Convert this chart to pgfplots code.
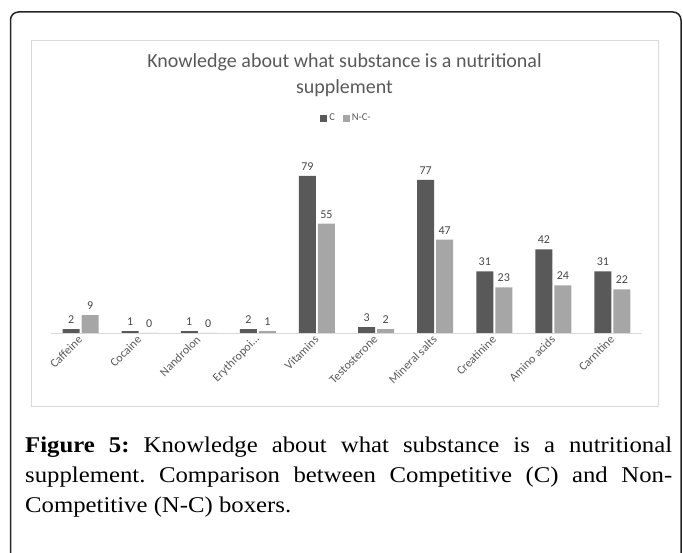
\documentclass[border=0pt]{standalone}
\usepackage{pgfplots}
\pgfplotsset{compat=1.18}
\usepackage{fontspec}
\setmainfont{Liberation Serif}
\newfontfamily\capfont[FakeStretch=1.1]{Liberation Serif}
\newfontfamily\carlito{Carlito}
\definecolor{cdark}{HTML}{595959}
\definecolor{clight}{HTML}{A6A6A6}
\definecolor{ctext}{HTML}{595959}
\definecolor{cgrid}{HTML}{D9D9D9}
\begin{document}
\begin{tikzpicture}[x=1pt,y=1pt]
\path[use as bounding box] (0,0) rectangle (683,552);
\draw[line width=1.5pt, rounded corners=8pt, black!85] (10.5,-20) -- (10.5,540) -- (681,540) -- (681,-20);
\draw[cgrid, line width=0.8pt] (31,146) rectangle (658,512);
\node[font=\carlito\fontsize{20}{26}\selectfont, text=ctext, align=center] at (344.5,477) {Knowledge about what substance is a nutritional\\supplement};
\begin{axis}[
  at={(51pt,219pt)}, anchor=south west,
  width=591pt, height=169pt, scale only axis,
  xmin=-0.5, xmax=9.5, ymin=0, ymax=85,
  ybar=2pt, bar width=17pt,
  axis x line*=bottom, axis y line=none,
  x axis line style={cgrid, line width=0.8pt, -},
  xtick={0,1,2,3,4,5,6,7,8,9},
  xticklabels={Caffeine,Cocaine,Nandrolon,{Erythropoi\ldots},Vitamins,Testosterone,Mineral salts,Creatinine,Amino acids,Carnitine},
  major tick length=0pt,
  xticklabel style={rotate=45, anchor=east, yshift=-3pt, font=\carlito\fontsize{12}{12}\selectfont, text=ctext},
  /pgf/number format/assume math mode=true,
  nodes near coords,
  every node near coord/.append style={font=\carlito\fontsize{12}{12}\selectfont, text=ctext!80!black, yshift=2pt},
  legend style={at={(0.5,1.272)}, anchor=center, draw=none, legend columns=2,
    font=\carlito\fontsize{10.5}{10.5}\selectfont, text=ctext,
    /tikz/every even column/.append style={column sep=6pt}},
  legend image code/.code={\fill (0pt,-3.5pt) rectangle (7pt,3.5pt);},
  clip=false,
]
\addplot[fill=cdark, draw=none]
  coordinates {(0,2) (1,1) (2,1) (3,2) (4,79) (5,3) (6,77) (7,31) (8,42) (9,31)};
\addlegendentry{C}
\addplot[fill=clight, draw=none]
  coordinates {(0,9) (1,0) (2,0) (3,1) (4,55) (5,2) (6,47) (7,23) (8,24) (9,22)};
\addlegendentry{N-C-}
\end{axis}
\node[anchor=north west, text width=647pt, inner sep=0pt, align=justify,
  font=\capfont\fontsize{22.5}{30}\selectfont] at (25,115)
  {\frenchspacing\textbf{Figure 5:} Knowledge about what substance is a nutritional\linebreak supplement. Comparison between Competitive (C) and Non-\linebreak Competitive (N-C) boxers.};
\end{tikzpicture}
\end{document}
